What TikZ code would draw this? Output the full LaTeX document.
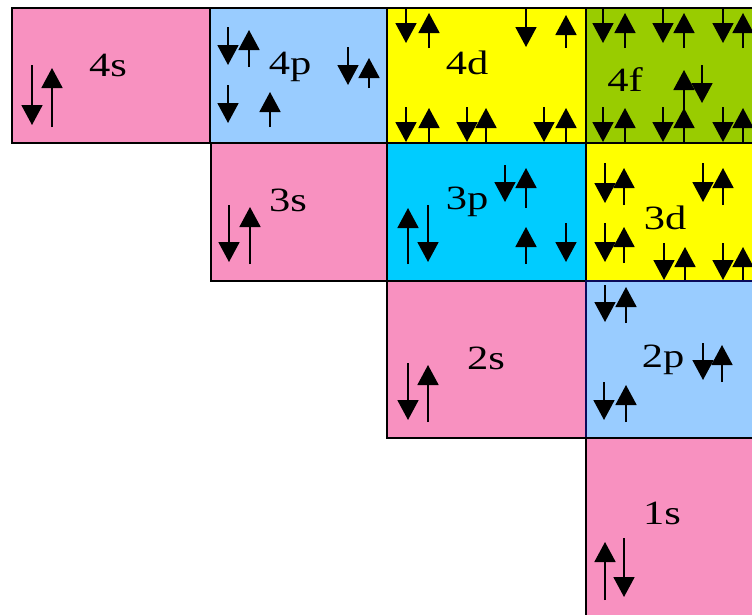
\documentclass[tikz,border=0pt]{standalone}
\usepackage{fontspec}
\newfontfamily\labfont[FakeStretch=1.25]{Liberation Serif}
\usetikzlibrary{arrows.meta}
\definecolor{pinkc}{RGB}{248,145,192}
\definecolor{bluec}{RGB}{153,204,255}
\definecolor{yelc}{RGB}{255,255,0}
\definecolor{greenc}{RGB}{153,204,0}
\definecolor{cyanc}{RGB}{0,204,255}
\definecolor{navyc}{RGB}{10,10,90}
\newcommand\elspin[3]{\draw[spinarrow] (#1,#2) -- (#1,#3);}
\begin{document}
\begin{tikzpicture}[x=1pt,y=-1pt,
  box/.style={draw=black,line width=2pt,anchor=north west,inner sep=0pt,outer sep=0pt},
  lab/.style={font=\labfont\fontsize{34}{38}\selectfont,text=black,inner sep=0pt},
  spinarrow/.style={line width=1.8pt,-{Triangle[width=21pt,length=20pt]}}]
\useasboundingbox (0,0) rectangle (752,614);
\clip (0,0) rectangle (752,614);
% boxes
\node[box,fill=pinkc,minimum width=198pt,minimum height=135pt] (b4s) at (12,8) {};
\node[box,fill=bluec,minimum width=177pt,minimum height=135pt] (b4p) at (210,8) {};
\node[box,fill=yelc,minimum width=199pt,minimum height=135pt] (b4d) at (387,8) {};
\node[box,fill=greenc,minimum width=180pt,minimum height=135pt] (b4f) at (586,8) {};
\node[box,fill=pinkc,minimum width=176pt,minimum height=138pt] (b3s) at (211,143) {};
\node[box,fill=cyanc,minimum width=199pt,minimum height=138pt] (b3p) at (387,143) {};
\node[box,fill=yelc,minimum width=180pt,minimum height=138pt] (b3d) at (586,143) {};
\node[box,fill=pinkc,minimum width=199pt,minimum height=157pt] (b2s) at (387,281) {};
\node[box,draw=navyc,fill=bluec,minimum width=180pt,minimum height=157pt] (b2p) at (586,281) {};
\node[box,fill=pinkc,minimum width=180pt,minimum height=190pt] (b1s) at (586,438) {};
% labels
\node[lab] (t4s) at (108,65) {4s};
\node[lab] (t4p) at (290,67) {4p};
\node[lab] (t4d) at (467,63) {4d};
\node[lab] (t4f) at (625,80) {4f};
\node[lab] (t3s) at (288,200) {3s};
\node[lab] (t3p) at (467,202) {3p};
\node[lab] (t3d) at (665,218) {3d};
\node[lab] (t2s) at (486,358) {2s};
\node[lab] (t2p) at (663,360) {2p};
\node[lab] (t1s) at (662,513) {1s};
% 4s
\elspin{32}{65}{125} \elspin{52}{127}{68}
% 4p
\elspin{228}{27}{65} \elspin{249}{67}{30} \elspin{348}{47}{85} \elspin{369}{88}{58}
\elspin{228}{85}{123} \elspin{270}{127}{92}
% 4d
\elspin{406}{9}{43} \elspin{429}{48}{13} \elspin{526}{9}{47} \elspin{566}{48}{15}
\elspin{406}{107}{142} \elspin{429}{143}{108} \elspin{467}{107}{142} \elspin{486}{143}{108}
\elspin{544}{107}{142} \elspin{566}{143}{108}
% 4f
\elspin{603}{9}{43} \elspin{625}{48}{13} \elspin{663}{9}{43} \elspin{684}{48}{13}
\elspin{723}{9}{43} \elspin{743}{48}{13}
\elspin{684}{110}{70} \elspin{702}{65}{103}
\elspin{603}{107}{142} \elspin{625}{143}{108} \elspin{663}{107}{142} \elspin{684}{143}{108}
\elspin{723}{107}{142} \elspin{743}{143}{108}
% 3s
\elspin{229}{205}{262} \elspin{250}{264}{207}
% 3p
\elspin{408}{264}{208} \elspin{428}{205}{262} \elspin{505}{165}{202} \elspin{526}{208}{168}
\elspin{526}{264}{227} \elspin{566}{223}{262}
% 3d
\elspin{605}{163}{203} \elspin{624}{205}{168} \elspin{703}{163}{202} \elspin{723}{205}{168}
\elspin{605}{223}{262} \elspin{624}{263}{227} \elspin{664}{243}{280} \elspin{685}{280}{247}
\elspin{723}{243}{280} \elspin{743}{280}{247}
% 2s
\elspin{408}{363}{420} \elspin{428}{422}{365}
% 2p
\elspin{605}{285}{322} \elspin{626}{323}{287} \elspin{703}{343}{380} \elspin{722}{382}{345}
\elspin{604}{382}{420} \elspin{626}{422}{385}
% 1s
\elspin{605}{600}{542} \elspin{624}{538}{597}
\end{tikzpicture}
\end{document}
